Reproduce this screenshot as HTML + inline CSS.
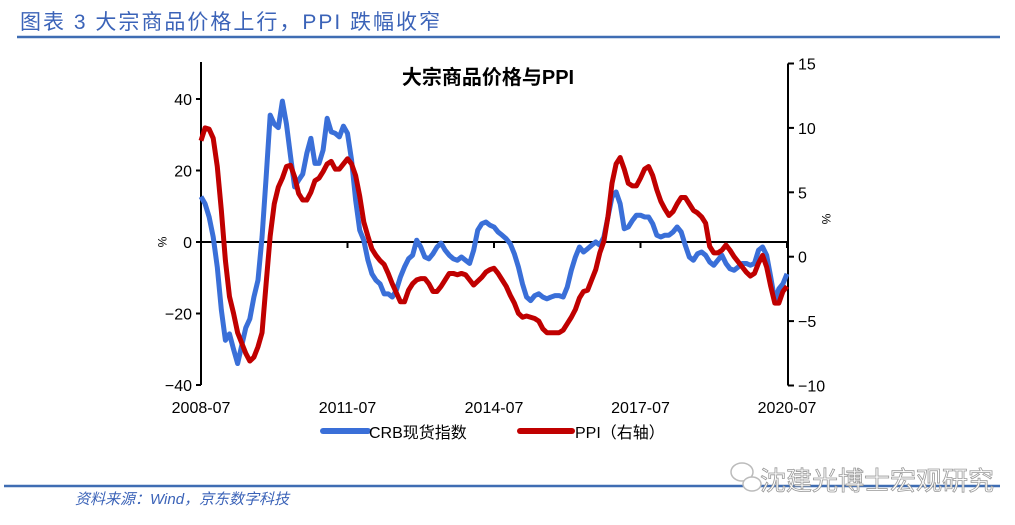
<!DOCTYPE html>
<html><head><meta charset="utf-8"><style>
html,body{margin:0;padding:0;background:#fff;}
body{width:1015px;height:525px;overflow:hidden;position:relative;font-family:"Liberation Sans","Noto Sans CJK SC",sans-serif;}
</style></head><body>
<svg id="chart" width="1015" height="525" xmlns="http://www.w3.org/2000/svg" style="position:absolute;left:0;top:0">
<text x="20" y="29" font-size="21" fill="#3b63b8" font-family="Liberation Sans,Noto Sans CJK SC,sans-serif" letter-spacing="2">图表 3 大宗商品价格上行，PPI 跌幅收窄</text>
<line x1="17" y1="37" x2="1000" y2="37" stroke="#3f6db3" stroke-width="2.5"/>
<text x="488" y="84" font-size="20" font-weight="bold" text-anchor="middle" fill="#000" font-family="Liberation Sans,Noto Sans CJK SC,sans-serif">大宗商品价格与PPI</text>
<g id="axes"></g>
<g id="series"></g>
<g>
<line x1="323" y1="431" x2="368" y2="431" stroke="#3a6fd8" stroke-width="6" stroke-linecap="round"/>
<text x="369" y="438" font-size="16" fill="#000">CRB现货指数</text>
<line x1="520" y1="431" x2="572" y2="431" stroke="#c00000" stroke-width="6" stroke-linecap="round"/>
<text x="575" y="438" font-size="16" fill="#000">PPI（右轴）</text>
</g>
<line x1="4" y1="486" x2="1000" y2="486" stroke="#3f6db3" stroke-width="2.5"/>
<text x="75" y="504" font-size="15" font-style="italic" fill="#3b63b8">资料来源：Wind，京东数字科技</text>
<g>
<circle cx="374" cy="0" r="0" fill="none"/>
<ellipse cx="742" cy="472" rx="11" ry="9" fill="none" stroke="#bbb" stroke-width="1.5"/>
<ellipse cx="752" cy="484" rx="9" ry="7" fill="#fff" stroke="#bbb" stroke-width="1.5"/>
<text x="760" y="490" font-size="26" fill="#fff" stroke="#999" stroke-width="0.8">沈建光博士宏观研究</text>
</g>
</svg>
<script>
const crb=[12.7,10.7,7,1.4,-7,-19,-27.5,-25.7,-30,-34,-29,-24,-21.5,-15.4,-10.7,1.4,18,35.5,33,32,39.4,33,24,15.4,17.3,19,24.8,29,22,22,25.7,34.6,30.8,30.4,29.4,32.4,30.4,22.9,11.7,3.3,0.5,-5,-8.9,-10.7,-11.7,-14.5,-14.5,-15.4,-13.5,-9.8,-7,-4.7,-3.7,0.5,-1.4,-4.2,-4.7,-3.3,-1.4,-0.3,-2.3,-3.7,-4.7,-5.1,-4.2,-5.1,-6,-2.3,3.3,5.1,5.6,4.7,4.2,2.8,1.9,0.9,-0.5,-3.3,-7,-11.7,-15.4,-16.4,-15,-14.5,-15.4,-15.9,-15.4,-15,-15,-15.4,-12.6,-7.9,-4.2,-1.4,-2.8,-1.9,-0.9,0,-0.9,1.4,7,12.6,14,10.7,3.7,4.2,6,7.5,7.5,7,7,5.1,1.9,1.4,1.9,1.9,2.8,4.2,2.8,-0.9,-4.2,-5.1,-3.3,-2.8,-3.7,-5.6,-6.5,-5.1,-3.7,-6,-7.5,-7.9,-7,-6,-6,-6.5,-6,-2.3,-1.4,-3.7,-9.8,-16.4,-13.1,-11.7,-8.9];
const ppi=[9.0,10.0,9.9,9.2,7.0,3.6,-0.3,-3.1,-4.4,-5.9,-6.7,-7.5,-8.1,-7.8,-7.0,-5.9,-2.1,1.6,4.1,5.4,6.1,7.0,7.1,6.2,4.9,4.4,4.4,5.0,5.9,6.1,6.6,7.2,7.4,6.8,6.8,7.2,7.6,7.2,6.3,4.7,2.7,1.6,0.6,0.1,-0.3,-0.6,-1.3,-2.1,-2.8,-3.5,-3.5,-2.6,-2.1,-1.8,-1.7,-1.7,-2.1,-2.7,-2.7,-2.3,-1.8,-1.3,-1.3,-1.4,-1.3,-1.4,-1.8,-2.2,-1.9,-1.6,-1.2,-1.0,-0.9,-1.3,-1.8,-2.3,-3.0,-3.6,-4.4,-4.7,-4.6,-4.7,-4.8,-5.0,-5.6,-5.9,-5.9,-5.9,-5.9,-5.7,-5.2,-4.7,-4.1,-3.2,-2.7,-2.6,-1.8,-1.0,0.3,1.2,3.1,5.7,7.2,7.7,6.8,5.7,5.5,5.5,6.1,6.8,7.0,6.3,5.2,4.3,3.7,3.2,3.5,4.1,4.6,4.6,4.1,3.6,3.4,3.1,2.6,0.8,0.3,0.3,0.5,0.9,0.5,0,-0.4,-0.8,-1.2,-1.5,-1.3,-0.5,0.1,-0.8,-2.3,-3.6,-3.6,-2.7,-2.3];
const leftTicks=[40,20,0,-20,-40];
const rightTicks=[15,10,5,0,-5,-10];
const xTickLabels=["2008-07","2011-07","2014-07","2017-07","2020-07"];
const xTickMonths=[0,36,72,108,144];
const NS="http://www.w3.org/2000/svg";
const X0=201,X1=787,nM=144;
const xs=m=>X0+(X1-X0)*m/nM;
const yl=v=>242-v*3.575;
const yr=v=>256.7-v*12.88;
function mk(tag,attrs,parent){const e=document.createElementNS(NS,tag);for(const k in attrs)e.setAttribute(k,attrs[k]);parent.appendChild(e);return e;}
const ax=document.getElementById('axes');
let e=mk('line',{x1:X0,y1:62,x2:X0,y2:yl(-40),stroke:'#000','stroke-width':2},ax);


e=mk('line',{x1:X1+1,y1:yr(15),x2:X1+1,y2:yr(-10),stroke:'#000','stroke-width':2},ax);


e=mk('line',{x1:X0,y1:yl(0),x2:X1,y2:yl(0),stroke:'#000','stroke-width':2},ax);


leftTicks.forEach(v=>{
 let t=mk('line',{x1:X0-5,y1:yl(v),x2:X0,y2:yl(v),stroke:'#000','stroke-width':2},ax);
 
 
 let l=mk('text',{x:X0-9,y:yl(v)+6,'font-size':16,'text-anchor':'end'},ax);
 l.textContent=v<0?'−'+(-v):String(v);
 
 
});
rightTicks.forEach(v=>{
 let t=mk('line',{x1:X1+1,y1:yr(v),x2:X1+7,y2:yr(v),stroke:'#000','stroke-width':2},ax);
 
 
 let l=mk('text',{x:X1+11,y:yr(v)+6,'font-size':16},ax);
 l.textContent=v<0?'−'+(-v):String(v);
 
 
});
xTickMonths.forEach((m,i)=>{
 if(i>0){let t=mk('line',{x1:xs(m),y1:yl(0),x2:xs(m),y2:yl(0)+6,stroke:'#000','stroke-width':2},ax);
 
 }
 let l=mk('text',{x:xs(m),y:413,'font-size':16,'text-anchor':'middle'},ax);
 l.textContent=xTickLabels[i];
 
 
});
let u=mk('text',{x:0,y:0,'font-size':12,transform:`translate(158,242) rotate(90)`,'text-anchor':'middle'},ax);
u.textContent='%';


u=mk('text',{x:0,y:0,'font-size':12,transform:`translate(822,219) rotate(90)`,'text-anchor':'middle'},ax);
u.textContent='%';


const sg=document.getElementById('series');
let p=mk('polyline',{points:crb.map((v,i)=>xs(i)+','+yl(v)).join(' '),fill:'none',stroke:'#3a6fd8','stroke-width':5,'stroke-linejoin':'round'},sg);


p=mk('polyline',{points:ppi.map((v,i)=>xs(i)+','+yr(v)).join(' '),fill:'none',stroke:'#c00000','stroke-width':5,'stroke-linejoin':'round'},sg);


</script>
</body></html>
